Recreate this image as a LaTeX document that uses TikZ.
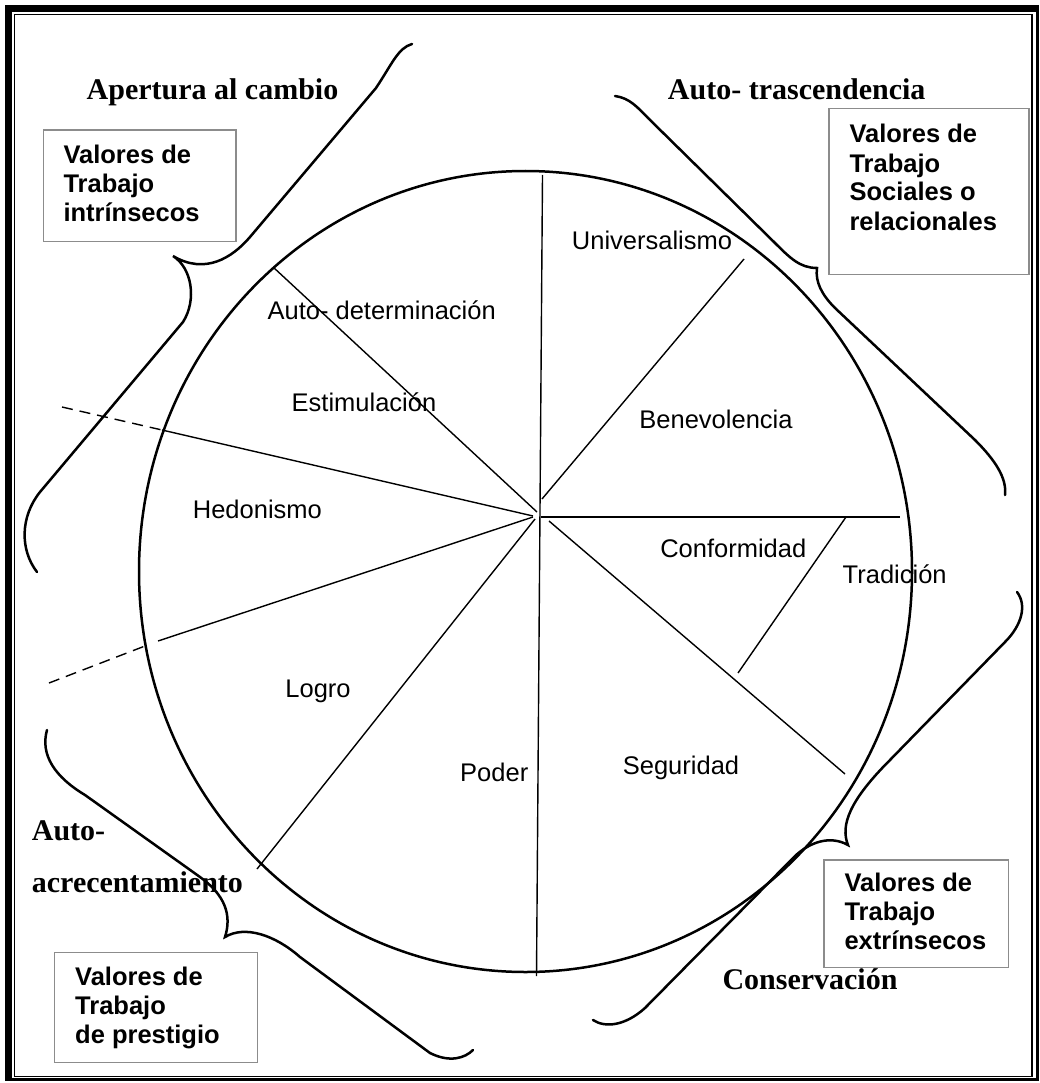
\documentclass[tikz,border=0pt]{standalone}
\usepackage{fontspec}
\setmainfont{Liberation Sans}
\newfontfamily\headfont{Liberation Serif}
\usepackage{tikz}
\tikzset{
  ring/.style={draw, line width=2.5pt},
  brace/.style={draw, line width=2.5pt, line cap=round},
  divider/.style={draw, line width=1.4pt},
  dashdiv/.style={divider, dash pattern=on 11pt off 7pt},
  valbox/.style={draw=gray!90, line width=1.3pt},
  valtext/.style={anchor=base west, align=left, inner sep=0pt, font=\bfseries\fontsize{25.5}{29}\selectfont},
  value/.style={anchor=base, inner sep=0pt, font=\fontsize{25.5}{29}\selectfont},
  dimension/.style={anchor=base, inner sep=0pt, align=left, font=\headfont\bfseries\fontsize{30}{52.7}\selectfont}
}

\begin{document}
\begin{tikzpicture}[x=1pt,y=-1pt]
  \useasboundingbox (0,0) rectangle (1040,1083);

  % page frame
  \draw[line width=6.7pt] (8.4,1080) -- (8.4,8.4) -- (1038,8.4);
  \draw[line width=3.5pt] (1037.5,5) -- (1037.5,1079.5) -- (5,1079.5);
  \draw[line width=1.2pt] (14.5,14.5) rectangle (1032,1076.5);

  % circle and dividers
  \draw[ring] (525.5,571.5) ellipse [x radius=386.5, y radius=400.5];
  \draw[divider] (542.5,175) -- (536.5,976);
  \draw[divider] (542,499) -- (744,259);
  \draw[divider] (273,267) -- (537,512);
  \draw[divider] (162,430) -- (533,516);
  \draw[dashdiv] (62,407) -- (162,430);
  \draw[divider] (158,641) -- (533,517);
  \draw[dashdiv] (49,683) -- (145,646);
  \draw[divider] (535,519) -- (257,869);
  \draw[divider] (541,517) -- (900,517);
  \draw[divider] (846,517) -- (738,673);
  \draw[divider] (549,521) -- (845,774);

  % braces
  \draw[brace] (412,44) .. controls (398,48) and (392,64) .. (376,88)
    -- (250,237) .. controls (232,258) and (205,275) .. (173,256)
    .. controls (192,268) and (197,300) .. (183,322)
    -- (40,492) .. controls (20,517) and (20,550) .. (37,572);
  \draw[brace] (615,96) .. controls (630,98) and (638,108) .. (648,118)
    -- (775,243) .. controls (790,258) and (800,268) .. (817,268)
    .. controls (815,282) and (822,295) .. (835,308)
    -- (975,440) .. controls (995,460) and (1007,478) .. (1005,495);
  \draw[brace] (1017,592) .. controls (1027,605) and (1022,625) .. (1005,642)
    -- (890,760) .. controls (850,800) and (840,825) .. (848,845)
    .. controls (830,835) and (810,842) .. (795,856)
    -- (645,1008) .. controls (625,1026) and (605,1028) .. (593,1020);
  \draw[brace] (47,730) .. controls (40,755) and (55,777) .. (85,795)
    -- (200,877) .. controls (225,895) and (232,915) .. (225,937)
    .. controls (245,925) and (275,935) .. (300,957)
    -- (430,1053) .. controls (450,1063) and (465,1058) .. (473,1050);

  % value boxes (node base = last line)
  \draw[valbox] (43.3,130) rectangle (236,241.7);
  \node[valtext] (intrinsecos) at (63.3,222) {Valores de\\Trabajo\\intrínsecos};
  \draw[valbox] (829,108.3) rectangle (1029,274.3);
  \node[valtext] (sociales) at (849.3,230) {Valores de\\Trabajo\\Sociales o\\relacionales};
  \draw[valbox] (54.3,952.3) rectangle (257.7,1062.7);
  \node[valtext] (prestigio) at (75,1043.3) {Valores de\\Trabajo\\de prestigio};
  \draw[valbox] (824,860) rectangle (1008.3,967.7);
  \node[valtext] (extrinsecos) at (844.3,949.3) {Valores de\\Trabajo\\extrínsecos};

  % dimensions
  \node[dimension] (apertura) at (212.5,100) {Apertura al cambio};
  \node[dimension] (trascend) at (796.7,100) {Auto- trascendencia};
  \node[dimension, anchor=base west] (acrecent) at (31.7,892.7) {Auto-\\acrecentamiento};
  \node[dimension] (conserv) at (810,989.3) {Conservación};

  % values
  \node[value] (univ) at (652,250) {Universalismo};
  \node[value] (autodet) at (381.7,319.3) {Auto- determinación};
  \node[value] (estim) at (364,411) {Estimulación};
  \node[value] (benev) at (716,428.3) {Benevolencia};
  \node[value, anchor=base west] (hedon) at (192.7,518.3) {Hedonismo};
  \node[value] (logro) at (318,697) {Logro};
  \node[value, anchor=base west] (poder) at (460,781.7) {Poder};
  \node[value] (segur) at (681,774) {Seguridad};
  \node[value] (conform) at (733.3,557.3) {Conformidad};
  \node[value, anchor=base west] (tradic) at (842.5,583.3) {Tradición};
\end{tikzpicture}
\end{document}
